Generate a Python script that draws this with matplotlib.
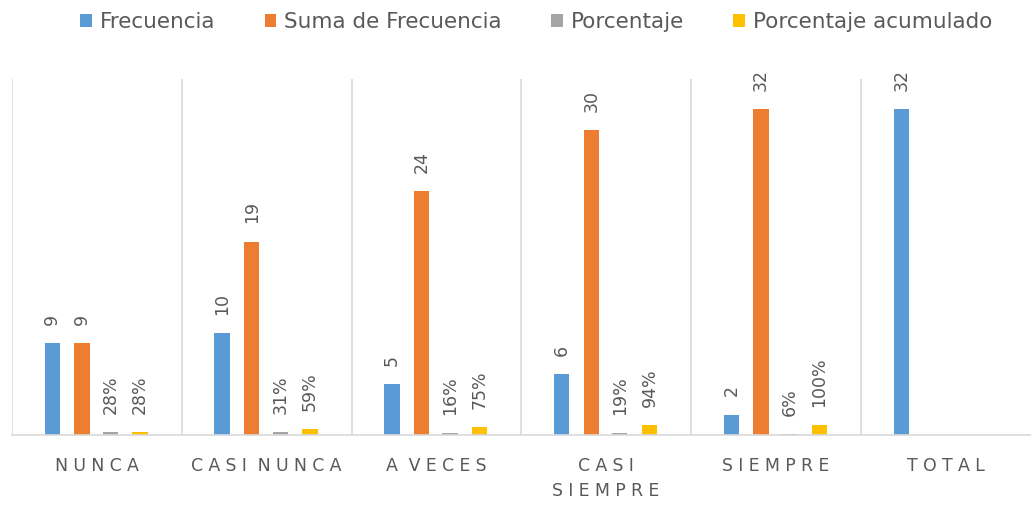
import numpy as np
import matplotlib.pyplot as plt

categorias = ['NUNCA', 'CASI NUNCA', 'A VECES', 'CASI\nSIEMPRE', 'SIEMPRE', 'TOTAL']
frecuencia = [9, 10, 5, 6, 2, 32]
suma_frecuencia = [9, 19, 24, 30, 32, np.nan]
porcentaje = [0.28, 0.31, 0.16, 0.19, 0.06, np.nan]
porcentaje_acum = [0.28, 0.59, 0.75, 0.94, 1.00, np.nan]

series = [
    ('Frecuencia', frecuencia, '#5B9BD5', '{:.0f}'),
    ('Suma de Frecuencia', suma_frecuencia, '#ED7D31', '{:.0f}'),
    ('Porcentaje', porcentaje, '#A5A5A5', '{:.0%}'),
    ('Porcentaje acumulado', porcentaje_acum, '#FFC000', '{:.0%}'),
]

txt = '#595959'
plt.rcParams['font.family'] = ['DejaVu Sans']

fig = plt.figure(figsize=(10.31, 5.16), dpi=100)
ax = fig.add_axes([0.0116, 0.157, 0.988, 0.69])

x = np.arange(len(categorias))
offsets = [-0.262, -0.088, 0.08, 0.255]
width = 0.09

for (nombre, vals, color, fmt), off in zip(series, offsets):
    vals = np.array(vals, dtype=float)
    ax.bar(x + off, vals, width, color=color, label=nombre)
    for xi, v in zip(x + off, vals):
        if np.isnan(v):
            continue
        ax.text(xi, v + 1.8, fmt.format(v), rotation=90, ha='center', va='bottom',
                fontsize=12.5, color=txt)

ax.set_xlim(-0.5, len(categorias) - 0.5)
ax.set_ylim(0, 35)
ax.set_yticks([])
for s in ['top', 'right', 'left']:
    ax.spines[s].set_visible(False)
ax.spines['bottom'].set_color('#D9D9D9')
ax.spines['bottom'].set_linewidth(1.2)
for b in np.arange(len(categorias)) - 0.5:
    ax.axvline(b, color='#D9D9D9', lw=1.2, zorder=0)

def espaciar(s):
    sep = '\u2009\u200a'
    lineas = []
    for linea in s.split('\n'):
        palabras = [sep.join(p) for p in linea.split(' ')]
        lineas.append((sep + ' ').join(palabras))
    return '\n'.join(lineas)

ax.set_xticks(x)
ax.set_xticklabels([espaciar(c) for c in categorias], fontsize=12.5, color=txt, linespacing=1.45)
ax.tick_params(axis='x', length=0, pad=16)

fig.legend(loc='upper center', bbox_to_anchor=(0.52, 1.015), ncol=4, frameon=False,
           fontsize=15.5, labelcolor=txt, handlelength=0.55, handleheight=0.55,
           handletextpad=0.35, columnspacing=2.3)

plt.savefig('out.png', dpi=100)
